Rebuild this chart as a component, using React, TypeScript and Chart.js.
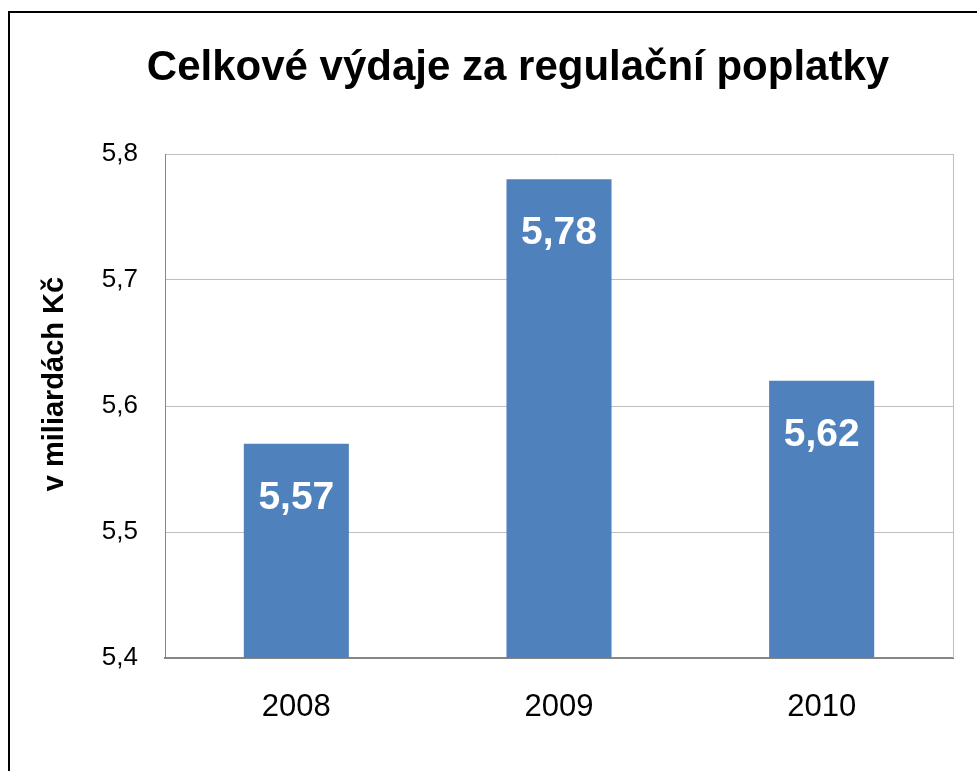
import React, { useEffect, useRef } from "react";
import { Chart, registerables } from "chart.js";

Chart.register(...registerables);

const categories: string[] = ["2008", "2009", "2010"];
const values: number[] = [5.57, 5.78, 5.62];
const yTicks: number[] = [5.4, 5.5, 5.6, 5.7, 5.8];
const titleText = "Celkové výdaje za regulační poplatky";
const yTitleText = "v miliardách Kč";

const FONT = "'Liberation Sans', Arial, sans-serif";
const fmt = (v: number) => v.toFixed(2).replace(".", ",");

const decorPlugin = {
  id: "decor",
  beforeDraw(chart: any) {
    const ctx = chart.ctx;
    ctx.save();
    ctx.fillStyle = "#ffffff";
    ctx.fillRect(0, 0, chart.width, chart.height);
    ctx.strokeStyle = "#000000";
    ctx.lineWidth = 2;
    ctx.strokeRect(9, 12, chart.width + 50, chart.height + 50);
    ctx.restore();
  },
  afterDraw(chart: any) {
    const ctx = chart.ctx;
    const a = chart.chartArea;
    ctx.save();
    ctx.strokeStyle = "#BFBFBF";
    ctx.lineWidth = 1;
    ctx.beginPath();
    ctx.moveTo(Math.round(a.right) + 0.5, a.top);
    ctx.lineTo(Math.round(a.right) + 0.5, a.bottom);
    ctx.stroke();
    ctx.fillStyle = "#000000";
    ctx.font = `bold 42px ${FONT}`;
    ctx.textAlign = "center";
    ctx.textBaseline = "alphabetic";
    ctx.fillText(titleText, 518, 80);
    ctx.translate(63, 384);
    ctx.rotate(-Math.PI / 2);
    ctx.font = `bold 29px ${FONT}`;
    ctx.fillText(yTitleText, 0, 0);
    ctx.restore();
  },
  afterDatasetsDraw(chart: any) {
    const ctx = chart.ctx;
    const meta = chart.getDatasetMeta(0);
    ctx.save();
    ctx.fillStyle = "#ffffff";
    ctx.font = `bold 39px ${FONT}`;
    ctx.textAlign = "center";
    ctx.textBaseline = "alphabetic";
    meta.data.forEach((bar: any, i: number) => {
      ctx.fillText(fmt(values[i]), bar.x, bar.y + 65);
    });
    ctx.restore();
  },
};

export default function App() {
  const ref = useRef<HTMLCanvasElement | null>(null);
  useEffect(() => {
    if (!ref.current) return;
    const chart = new Chart(ref.current, {
      type: "bar",
      data: {
        labels: categories,
        datasets: [
          {
            data: values,
            backgroundColor: "#4F81BD",
            borderWidth: 0,
            categoryPercentage: 1,
            barPercentage: 0.4,
          },
        ],
      },
      options: {
        responsive: false,
        animation: false,
        devicePixelRatio: 1,
        layout: { padding: { left: 0, right: 24, top: 154, bottom: 0 } },
        plugins: {
          legend: { display: false },
          title: { display: false },
          tooltip: { enabled: false },
        },
        scales: {
          x: {
            afterFit: (s: any) => {
              s.height = 113;
            },
            grid: { display: false, drawTicks: false, tickLength: 0 },
            border: { display: true, color: "#868686", width: 2 },
            ticks: {
              color: "#000000",
              padding: 31,
              font: { family: FONT, size: 31 },
            },
          },
          y: {
            min: yTicks[0],
            max: yTicks[yTicks.length - 1],
            afterFit: (s: any) => {
              s.width = 165;
            },
            afterBuildTicks: (s: any) => {
              s.ticks = yTicks.map((v) => ({ value: v }));
            },
            grid: { color: "#BFBFBF", drawTicks: false, tickLength: 0 },
            border: { display: true, color: "#868686", width: 1 },
            ticks: {
              color: "#000000",
              padding: 27,
              font: { family: FONT, size: 26 },
              callback: (v: any) => Number(v).toFixed(1).replace(".", ","),
            },
          },
        },
      },
      plugins: [decorPlugin],
    });
    return () => chart.destroy();
  }, []);
  return (
    <div style={{ position: "fixed", left: 0, top: 0, width: 977, height: 771 }}>
      <canvas ref={ref} width={977} height={771} style={{ display: "block" }} />
    </div>
  );
}
